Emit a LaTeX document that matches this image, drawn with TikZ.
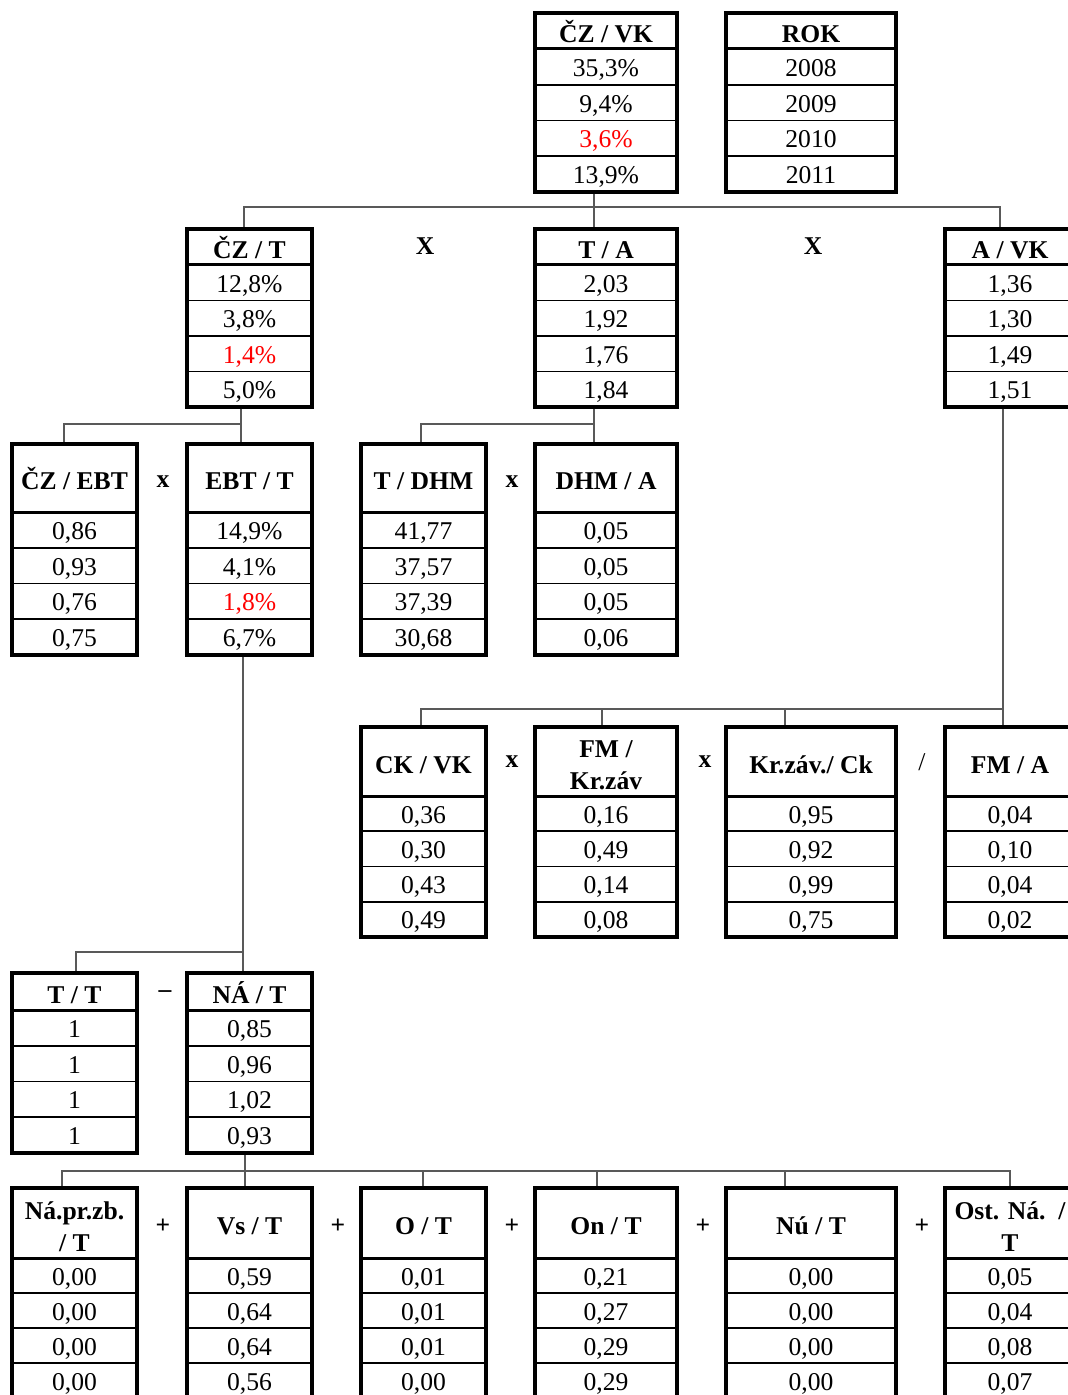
\documentclass[tikz,border=0pt]{standalone}
\usepackage{fontspec}
\setmainfont{Liberation Serif}
\usetikzlibrary{fit}
\tikzset{
  tblbox/.style={draw, line width=1.75pt, inner sep=0pt},
  hdrline/.style={line width=1.5pt},
  rowline/.style={line width=0.8pt},
  hdr/.style={font=\fontsize{12.8}{16}\selectfont\bfseries, align=center, inner sep=0pt, text height=8.6pt, text depth=0pt, yshift=-1.5pt},
  val/.style={font=\fontsize{12.8}{15}\selectfont, inner sep=0pt, text height=8.5pt, text depth=0pt, yshift=-0.5pt},
  conn/.style={draw=black!65, line width=1pt},
  op/.style={font=\fontsize{12.8}{15}\selectfont\bfseries, inner sep=0pt},
  opn/.style={font=\fontsize{12.8}{15}\selectfont, inner sep=0pt},
}
\newcommand\tbl[8]{%
  \pgfmathsetmacro\tblrh{(#6-#5)/4}
  \foreach \k in {1,2,3} {\draw[rowline] (#2,{#5+\k*\tblrh}) -- (#3,{#5+\k*\tblrh});}
  \draw[hdrline] (#2,#5) -- (#3,#5);
  \node[tblbox, fit={(#2,#4) (#3,#6)}] (#1) {};
  \node[hdr] (#1-h) at ({(#2+#3)/2},{(#4+#5)/2}) {#7};
  \foreach \v [count=\k] in {#8} {\node[val] (#1-\k) at ({(#2+#3)/2},{#5+(\k-0.5)*\tblrh}) {\v};}
}
\newcommand\red[1]{\textcolor{red}{#1}}
\newcommand\two[2]{\begin{tabular}{@{}c@{}}#1\\#2\end{tabular}}
\begin{document}
\begin{tikzpicture}[x=0.5pt,y=-0.5pt]
\useasboundingbox (0,0) rectangle (1067,1395);
% band 1
\tbl{czvk}{535}{677}{13}{49}{192}{ČZ / VK}{{35,3\%},{9,4\%},{\red{3,6\%}},{13,9\%}}
\tbl{rok}{726}{896}{13}{49}{192}{ROK}{2008,2009,2010,2011}
% band 2
\tbl{czt}{187}{312}{229}{265}{407}{ČZ / T}{{12,8\%},{3,8\%},{\red{1,4\%}},{5,0\%}}
\tbl{ta}{535}{677}{229}{265}{407}{T / A}{{2,03},{1,92},{1,76},{1,84}}
\tbl{avk}{945}{1075}{229}{265}{407}{A / VK}{{1,36},{1,30},{1,49},{1,51}}
% band 3
\tbl{czebt}{12}{137}{444}{512}{655}{ČZ / EBT}{{0,86},{0,93},{0,76},{0,75}}
\tbl{ebtt}{187}{312}{444}{512}{655}{EBT / T}{{14,9\%},{4,1\%},{\red{1,8\%}},{6,7\%}}
\tbl{tdhm}{361}{486}{444}{512}{655}{T / DHM}{{41,77},{37,57},{37,39},{30,68}}
\tbl{dhma}{535}{677}{444}{512}{655}{DHM / A}{{0,05},{0,05},{0,05},{0,06}}
% band 4
\tbl{ckvk}{361}{486}{727}{796}{937}{CK / VK}{{0,36},{0,30},{0,43},{0,49}}
\tbl{fmkr}{535}{677}{727}{796}{937}{\two{FM /}{Kr.záv}}{{0,16},{0,49},{0,14},{0,08}}
\tbl{krck}{726}{896}{727}{796}{937}{Kr.záv./ Ck}{{0,95},{0,92},{0,99},{0,75}}
\tbl{fma}{945}{1075}{727}{796}{937}{FM / A}{{0,04},{0,10},{0,04},{0,02}}
% band 5
\tbl{tt}{12}{137}{973}{1010}{1153}{T / T}{1,1,1,1}
\tbl{nat}{187}{312}{973}{1010}{1153}{NÁ / T}{{0,85},{0,96},{1,02},{0,93}}
% band 6
\tbl{napr}{12}{137}{1188}{1258}{1398}{\two{Ná.pr.zb.}{/ T}}{{0,00},{0,00},{0,00},{0,00}}
\tbl{vst}{187}{312}{1188}{1258}{1398}{Vs / T}{{0,59},{0,64},{0,64},{0,56}}
\tbl{ot}{361}{486}{1188}{1258}{1398}{O / T}{{0,01},{0,01},{0,01},{0,00}}
\tbl{ont}{535}{677}{1188}{1258}{1398}{On / T}{{0,21},{0,27},{0,29},{0,29}}
\tbl{nut}{726}{896}{1188}{1258}{1398}{Nú / T}{{0,00},{0,00},{0,00},{0,00}}
\tbl{ost}{945}{1075}{1188}{1258}{1398}{\two{Ost. Ná.~~/}{T}}{{0,05},{0,04},{0,08},{0,07}}
% operators
\node[op] (op1) at (425,246) {X};
\node[op] (op2) at (813,246) {X};
\node[op] (op3) at (163,482) {x};
\node[op] (op4) at (512,482) {x};
\node[op] (op5) at (512,762) {x};
\node[op] (op6) at (705,762) {x};
\node[opn] (op7) at (922,762) {/};
\node[op] (op8) at (165,994) {–};
\foreach \px [count=\i] in {163,338,512,703,922} {\node[op] (plus\i) at (\px,1226) {+};}
% junctions
\coordinate (j1) at (594,207);
\coordinate (j2) at (241,424);
\coordinate (j3) at (594,424);
\coordinate (j4) at (1003,709);
\coordinate (j4b) at (602,709);
\coordinate (j4c) at (785,709);
\coordinate (j5) at (243,952);
\coordinate (j6) at (245,1171);
\coordinate (j6b) at (423,1171);
\coordinate (j6c) at (597,1171);
\coordinate (j6d) at (785,1171);
% connectors
\draw[conn] (czvk.south -| j1) -- (j1) -- (ta.north -| j1);
\draw[conn] (czt.north -| 244,0) |- (j1) -| (avk.north -| 1000,0);
\draw[conn] (czt.south -| j2) -- (j2) -- (ebtt.north -| j2);
\draw[conn] (j2) -| (czebt.north -| 64,0);
\draw[conn] (ta.south -| j3) -- (j3) -- (dhma.north -| j3);
\draw[conn] (j3) -| (tdhm.north -| 421,0);
\draw[conn] (avk.south -| j4) -- (j4) -- (fma.north -| j4);
\draw[conn] (j4) -| (ckvk.north -| 421,0);
\draw[conn] (j4b) -- (fmkr.north -| j4b);
\draw[conn] (j4c) -- (krck.north -| j4c);
\draw[conn] (ebtt.south -| j5) -- (j5) -- (nat.north -| j5);
\draw[conn] (j5) -| (tt.north -| 76,0);
\draw[conn] (nat.south -| j6) -- (j6) -- (vst.north -| j6);
\draw[conn] (j6) -| (napr.north -| 62,0);
\draw[conn] (j6) -| (ost.north -| 1010,0);
\draw[conn] (j6b) -- (ot.north -| j6b);
\draw[conn] (j6c) -- (ont.north -| j6c);
\draw[conn] (j6d) -- (nut.north -| j6d);
\end{tikzpicture}
\end{document}
